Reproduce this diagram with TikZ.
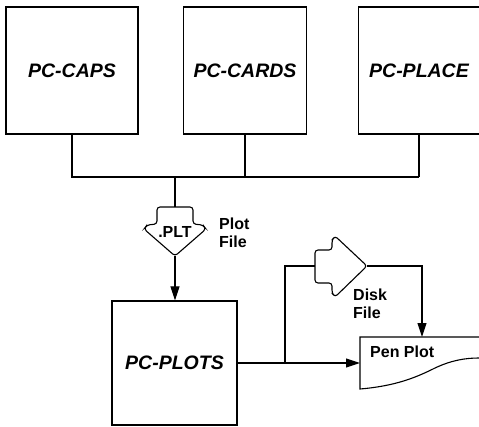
\documentclass[tikz,border=0pt]{standalone}
\usepackage{fontspec}
\setmainfont{Liberation Sans}
\usetikzlibrary{arrows.meta}

\tikzset{
  prog/.style={draw, line width=1.2pt, inner sep=0pt,
    font=\bfseries\itshape\fontsize{19.5}{22}\selectfont},
  note/.style={inner sep=0pt, align=left,
    font=\bfseries\fontsize{16}{18}\selectfont},
  flow/.style={line width=1.1pt},
  tip/.style={-{Triangle[length=14pt,width=9pt]}}
}

\begin{document}
\begin{tikzpicture}[x=1pt, y=-1pt]
    \useasboundingbox (0,0) rectangle (479,426);

    % the three programs on top
    \node[prog, minimum width=132pt, minimum height=127pt] (caps) at (72,70.5) {PC-CAPS};
    \node[prog, minimum width=123pt, minimum height=127pt] (cards) at (245,70.5) {PC-CARDS};
    \node[prog, minimum width=121pt, minimum height=127pt] (place) at (419,70.5) {PC-PLACE};
    \node[prog, minimum width=125pt, minimum height=124pt] (plots) at (174.5,363) {PC-PLOTS};

    \coordinate (bus) at (175,177);
    \coordinate (plttop) at (175,207);
    \coordinate (plttip) at (175,256);
    \coordinate (split) at (285,363);
    \coordinate (diskin) at (315,266);
    \coordinate (disktip) at (367,266);
    \coordinate (penin) at (360,363);
    \coordinate (pentop) at (422,337);

    % collecting bus
    \draw[flow] (caps.south) -- (caps.south |- bus) -- (place.south |- bus);
    \draw[flow] (cards.south) -- (cards.south |- bus);
    \draw[flow] (place.south) -- (place.south |- bus);
    \draw[flow] (bus) -- (plttop);

    % .PLT file arrow
    \draw[flow, rounded corners=3pt] (plttip) -- (144,229) -- (147,225) -- (157,224)
        -- (157,207) -- (193,207) -- (193,224) -- (203,225) -- (206,229) -- cycle;
    \node[note] (pltname) at (175,232) {.PLT};
    \node[note, anchor=north west] (pltnote) at (219,218) {Plot\\File};
    \draw[flow, tip] (plttip) -- (plttip |- plots.north);

    % disk file arrow
    \draw[flow, rounded corners=3pt] (disktip) -- (335,236) -- (332,240) -- (332,250)
        -- (315,250) -- (315,283) -- (332,283) -- (332,293) -- (335,297) -- cycle;
    \node[note, anchor=north west] (disknote) at (353,289) {Disk\\File};

    % pen plot sheet
    \draw[flow] (479,337) -- (360,337) -- (360,389)
        .. controls (395,386) and (415,378) .. (435,368)
        .. controls (452,360) and (466,358) .. (479,358);
    \node[note, anchor=west] (pen) at (370,352) {Pen Plot};

    \draw[flow, tip] (plots.east) -- (penin);
    \draw[flow] (split) -- (split |- diskin) -- (diskin);
    \draw[flow, tip] (disktip) -- (disktip -| pentop) -- (pentop);
\end{tikzpicture}
\end{document}
